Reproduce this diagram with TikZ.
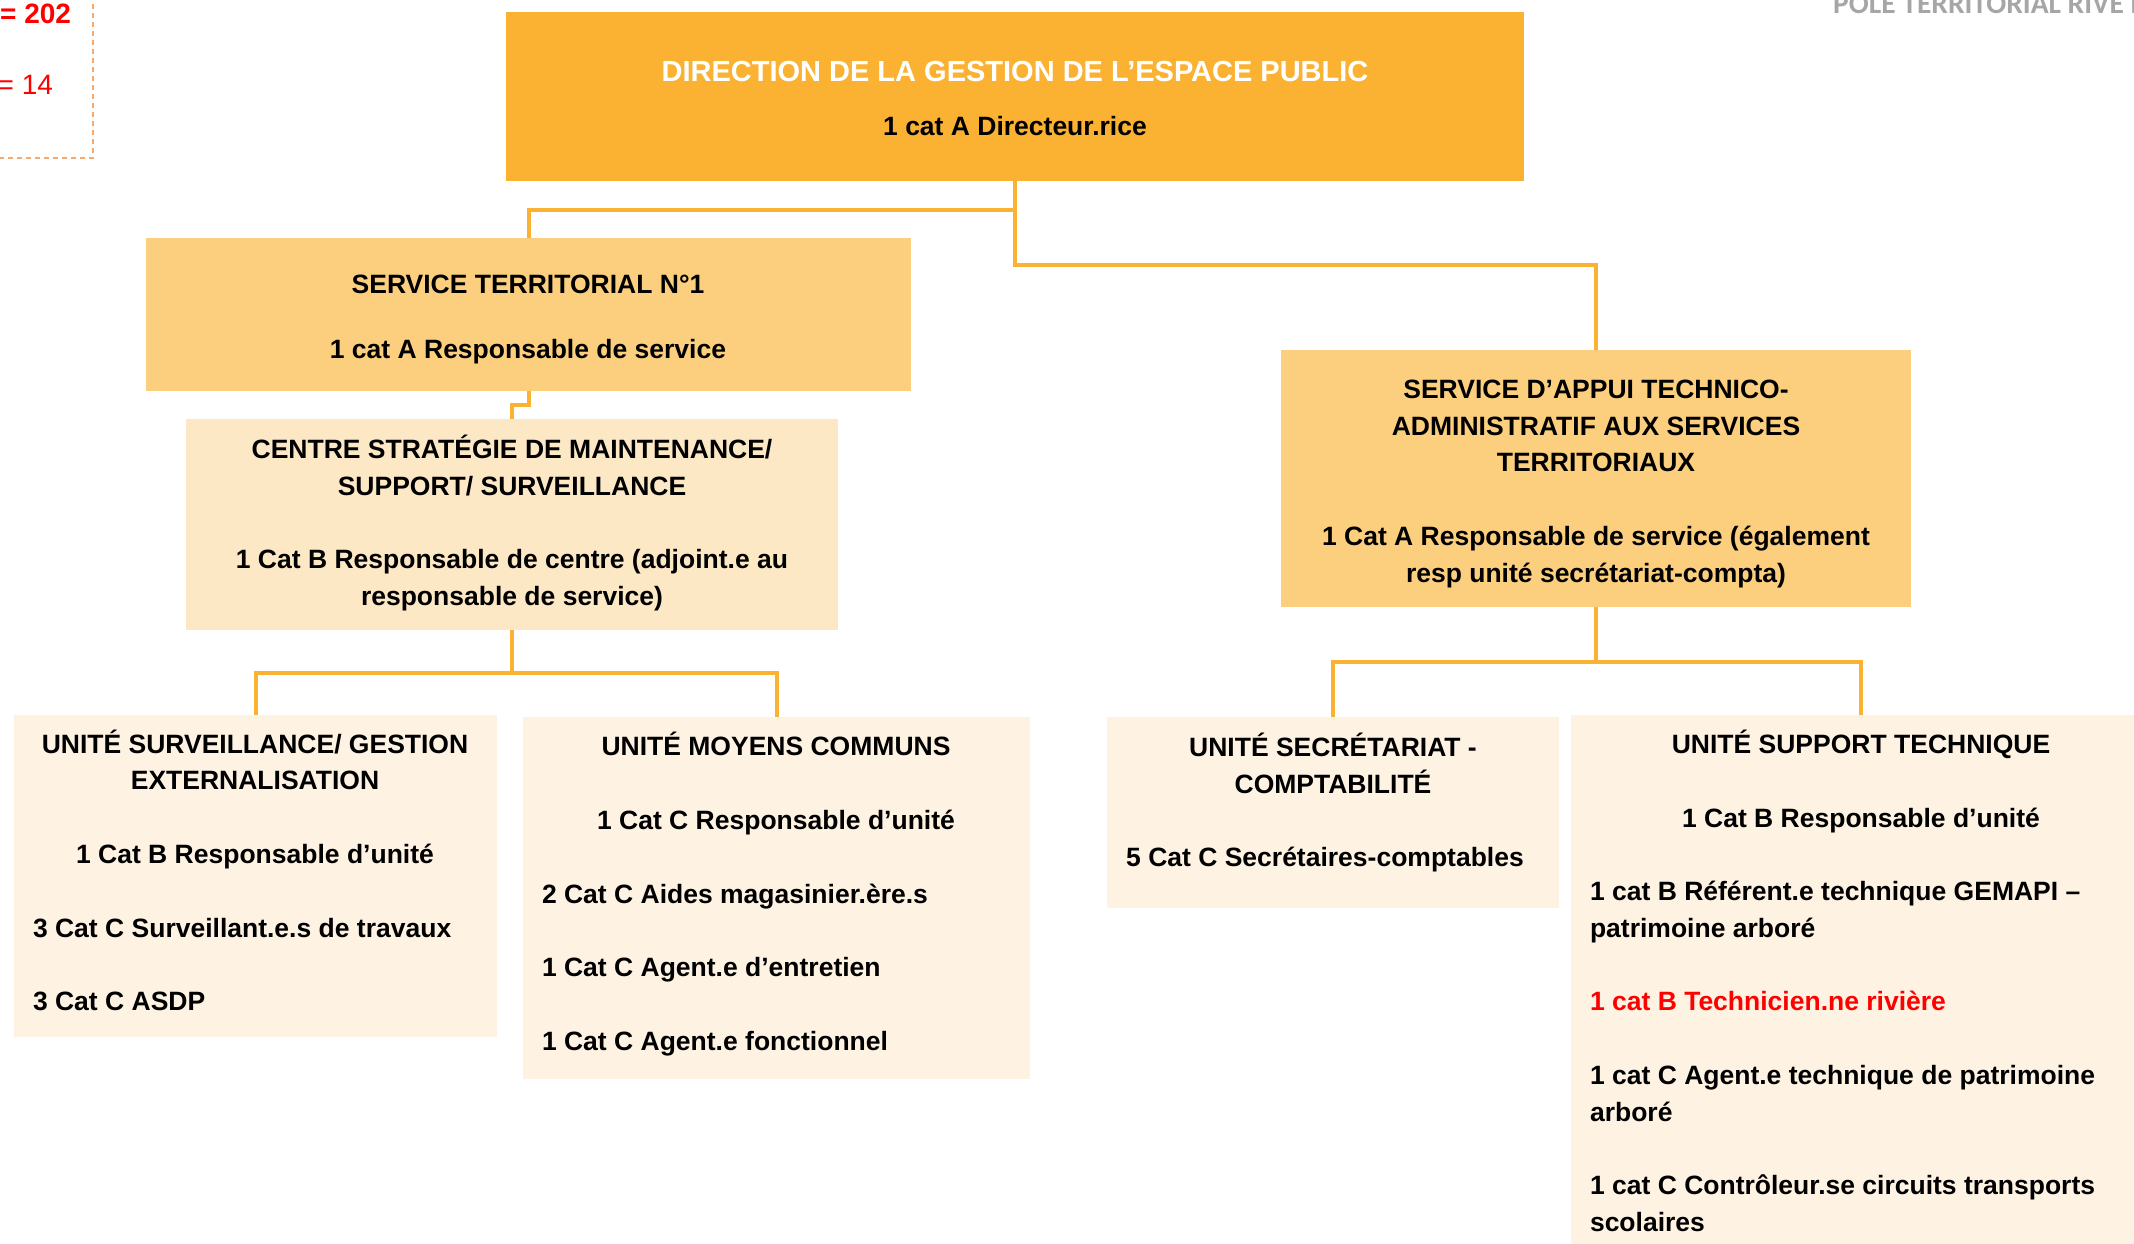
\documentclass[tikz,border=0pt]{standalone}
\usepackage{fontspec}
\setmainfont{Liberation Sans}
\newfontfamily\carl{Carlito}
\definecolor{dirfill}{HTML}{FBB232}
\definecolor{stfill}{HTML}{FCCF7E}
\definecolor{cefill}{HTML}{FDE8C6}
\definecolor{unitfill}{HTML}{FEF3E3}
\definecolor{connc}{HTML}{FBB232}
\definecolor{legc}{HTML}{F7AA6E}
\definecolor{graytxt}{HTML}{A6A6A6}
\definecolor{redtxt}{HTML}{FF0000}
\tikzset{
  box/.style={rectangle, draw=none, inner sep=0pt, outer sep=0pt},
  txt/.style={inner sep=0pt, outer sep=0pt, font=\fontsize{26.5}{37}\selectfont\bfseries},
  conn/.style={draw=connc, line width=4pt, line join=miter},
  legline/.style={draw=legc, line width=2pt, dash pattern=on 5pt off 4pt}
}
\newcommand\ctext[4]{\node[txt, anchor=base] (#1) at (#2,#3) {#4};}
\newcommand\ltext[4]{\node[txt, anchor=base west] (#1) at (#2,#3) {#4};}
\begin{document}
\begin{tikzpicture}[x=1pt, y=-1pt]
\useasboundingbox (0,0) rectangle (2134,1243);
\clip (0,0) rectangle (2134,1243);

% legend fragment
\draw[legline] (-10,158) -- (93,158) -- (93,-10);
\node[txt, anchor=base east, text=redtxt, font=\fontsize{28}{34}\selectfont\bfseries] (leg1) at (71,23) {= 202};
\node[txt, anchor=base east, text=redtxt, font=\fontsize{28}{34}\selectfont] (leg2) at (53,94) {= 14};

% header
\node[anchor=base west, inner sep=0pt, text=graytxt, font=\carl\fontsize{29.5}{34}\selectfont\bfseries] (pole) at (1833,13) {POLE TERRITORIAL RIVE D};

% boxes
\node[box, fill=dirfill, minimum width=1018pt, minimum height=169pt] (dir) at (1015,96.5) {};
\node[box, fill=stfill, minimum width=765pt, minimum height=153pt] (st) at (528.5,314.5) {};
\node[box, fill=cefill, minimum width=652pt, minimum height=211pt] (ce) at (512,524.5) {};
\node[box, fill=stfill, minimum width=630pt, minimum height=257pt] (sa) at (1596,478.5) {};
\node[box, fill=unitfill, minimum width=483pt, minimum height=322pt] (u1) at (255.5,876) {};
\node[box, fill=unitfill, minimum width=507pt, minimum height=362pt] (u2) at (776.5,898) {};
\node[box, fill=unitfill, minimum width=452pt, minimum height=191pt] (u3) at (1333,812.5) {};
\node[box, fill=unitfill, minimum width=579pt, minimum height=545pt] (u4) at (1860.5,987.5) {};

% connectors
\draw[conn] (dir.south) -- ++(0,29) -| (st.north);
\draw[conn] (dir.south) -- ++(0,84) -| (sa.north);
\draw[conn] (st.south) -- ++(0,14) -| (ce.north);
\draw[conn] (ce.south) -- ++(0,43) -| (u1.north);
\draw[conn] (ce.south) -- ++(0,43) -| (u2.north);
\draw[conn] (sa.south) -- ++(0,55) -| (u3.north);
\draw[conn] (sa.south) -- ++(0,55) -| (u4.north);

% direction
\node[txt, anchor=base, text=white, font=\fontsize{29}{37}\selectfont\bfseries] (dirt1) at (1015,81) {DIRECTION DE LA GESTION DE L’ESPACE PUBLIC};
\ctext{dirt2}{1015}{135}{1 cat A Directeur.rice}

% service territorial
\ctext{stt1}{528}{293}{SERVICE TERRITORIAL N°1}
\ctext{stt2}{528}{358}{1 cat A Responsable de service}

% centre
\ctext{cet1}{512}{458}{CENTRE STRATÉGIE DE MAINTENANCE/}
\ctext{cet2}{512}{495}{SUPPORT/ SURVEILLANCE}
\ctext{cet3}{512}{568}{1 Cat B Responsable de centre (adjoint.e au}
\ctext{cet4}{512}{605}{responsable de service)}

% service d'appui
\ctext{sat1}{1596}{398}{SERVICE D’APPUI TECHNICO-}
\ctext{sat2}{1596}{435}{ADMINISTRATIF AUX SERVICES}
\ctext{sat3}{1596}{471}{TERRITORIAUX}
\ctext{sat4}{1596}{545}{1 Cat A Responsable de service (également}
\ctext{sat5}{1596}{582}{resp unité secrétariat-compta)}

% unit 1
\ctext{u1t1}{255}{753}{UNITÉ SURVEILLANCE/ GESTION}
\ctext{u1t2}{255}{789}{EXTERNALISATION}
\ctext{u1t3}{255}{863}{1 Cat B Responsable d’unité}
\ltext{u1t4}{33}{937}{3 Cat C Surveillant.e.s de travaux}
\ltext{u1t5}{33}{1010}{3 Cat C ASDP}

% unit 2
\ctext{u2t1}{776}{755}{UNITÉ MOYENS COMMUNS}
\ctext{u2t2}{776}{829}{1 Cat C Responsable d’unité}
\ltext{u2t3}{542}{903}{2 Cat C Aides magasinier.ère.s}
\ltext{u2t4}{542}{976}{1 Cat C Agent.e d’entretien}
\ltext{u2t5}{542}{1050}{1 Cat C Agent.e fonctionnel}

% unit 3
\ctext{u3t1}{1333}{756}{UNITÉ SECRÉTARIAT -}
\ctext{u3t2}{1333}{793}{COMPTABILITÉ}
\ctext{u3t3}{1325}{866}{5 Cat C Secrétaires-comptables}

% unit 4
\ctext{u4t1}{1861}{753}{UNITÉ SUPPORT TECHNIQUE}
\ctext{u4t2}{1861}{827}{1 Cat B Responsable d’unité}
\ltext{u4t3}{1590}{900}{1 cat B Référent.e technique GEMAPI –}
\ltext{u4t4}{1590}{937}{patrimoine arboré}
\node[txt, anchor=base west, text=redtxt] (u4t5) at (1590,1010) {1 cat B Technicien.ne rivière};
\ltext{u4t6}{1590}{1084}{1 cat C Agent.e technique de patrimoine}
\ltext{u4t7}{1590}{1121}{arboré}
\ltext{u4t8}{1590}{1194}{1 cat C Contrôleur.se circuits transports}
\ltext{u4t9}{1590}{1231}{scolaires}
\end{tikzpicture}
\end{document}
